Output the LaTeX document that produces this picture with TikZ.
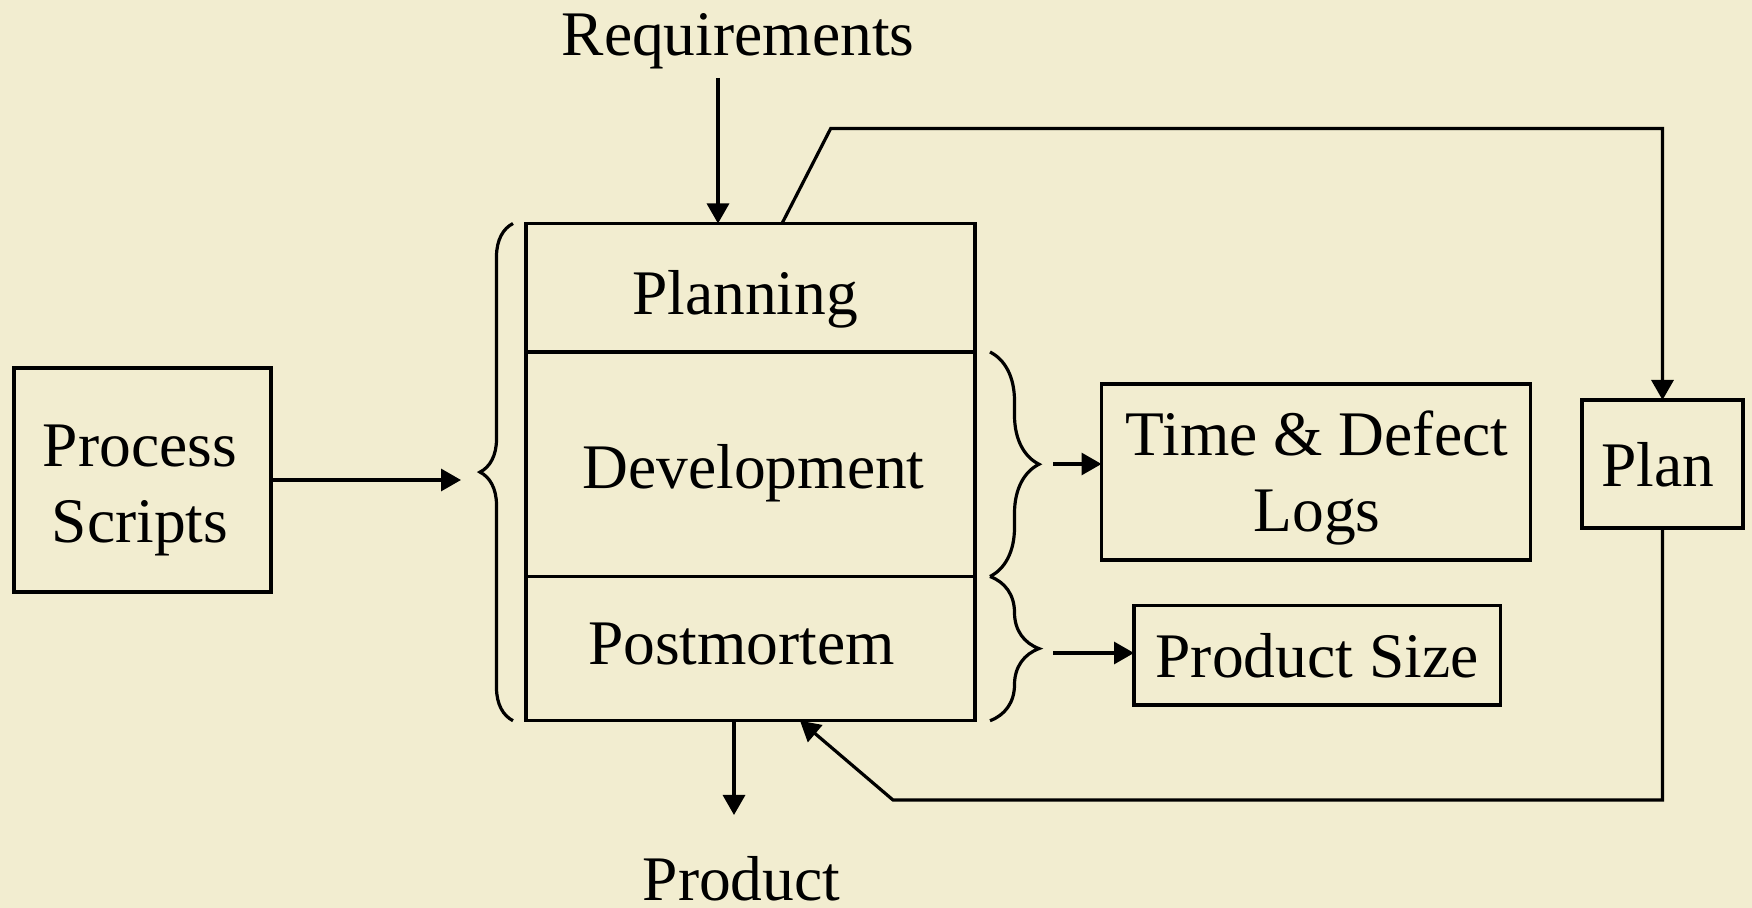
\documentclass[tikz,border=0pt]{standalone}
\usepackage{fontspec}
\setmainfont{Liberation Serif}
\usepackage{tikz}
\usetikzlibrary{arrows.meta, calc, decorations.pathreplacing}
\definecolor{parchment}{RGB}{242,237,208}

\begin{document}
\begin{tikzpicture}[
			x=0.5pt, y=-0.5pt,
			line width=1.6pt,
			every node/.style={font=\fontsize{31.75}{38}\selectfont},
			box/.style={draw, line width=1.6pt, inner sep=0pt, outer sep=0pt},
			txt/.style={anchor=base, inner sep=0pt, align=center},
			arr/.style={-{Triangle[length=10pt, width=11pt]}},
			brc/.style={decorate, decoration={brace, amplitude=#1}}
		]
		\fill[parchment] (0,0) rectangle (1752,908);
		\useasboundingbox (0,0) rectangle (1752,908);

		% boxes
		\node[box, minimum width=128.5pt, minimum height=112pt] (procs) at (142.5,480) {};
		\node[box, minimum width=224.5pt, minimum height=64.25pt] (planning) at (750.5,287.75) {};
		\node[box, minimum width=224.5pt, minimum height=112.25pt] (development) at (750.5,464.25) {};
		\node[box, minimum width=224.5pt, minimum height=72.1pt] (postmortem) at (750.5,648.6) {};
		\node[box, minimum width=214.5pt, minimum height=88pt] (logs) at (1316,472) {};
		\node[box, minimum width=183.3pt, minimum height=49.7pt] (size) at (1317.3,655.3) {};
		\node[box, minimum width=80.5pt, minimum height=64pt] (plan) at (1662.5,464) {};

		% texts (base of a two-line text is its last line)
		\node[txt] (reqtext) at (738,56) {Requirements};
		\node[txt] (procstext) at (140,543) {Process\\Scripts};
		\node[txt] (planningtext) at (745,315) {Planning};
		\node[txt] (devtext) at (753.5,489) {Development};
		\node[txt] (pmtext) at (741.5,665) {Postmortem};
		\node[txt] (logstext) at (1317,532) {Time \& Defect\\Logs};
		\node[txt] (sizetext) at (1317,678) {Product Size};
		\node[txt] (plantext) at (1658,487) {Plan};
		\node[txt] (prodtext) at (741.5,900) {Product};

		% braces
		\draw[brc=16.5pt] ($(postmortem.south west)+(-13,0)$) -- ($(planning.north west)+(-13,0)$);
		\draw[brc=24.5pt] ($(development.north east)+(15,0)$) -- ($(development.south east)+(15,0)$);
		\draw[brc=24.5pt] ($(postmortem.north east)+(15,0)$) -- ($(postmortem.south east)+(15,0)$);

		% connectors
		\coordinate (reqtop) at (718,78);
		\coordinate (inleft) at (461,480);
		\coordinate (outlogs) at (1053,464);
		\coordinate (outsize) at (1053,653);
		\coordinate (planout) at ($(planning.north west)+(256,0)$);
		\coordinate (backin) at ($(postmortem.south west)+(274,0)$);
		\coordinate (prodend) at (734,815);
		\draw[arr] (reqtop) -- (reqtop |- planning.north);
		\draw[arr] (procs.east) -- (inleft);
		\draw[arr] (outlogs) -- (outlogs -| logs.west);
		\draw[arr] (outsize) -- (outsize -| size.west);
		\draw[arr] (planout) -- (830.7,128.5) -- (plan.north |- 0,128.5) -- (plan.north);
		\draw[arr] (plan.south) -- (plan.south |- 0,800) -- (893,800) -- (backin);
		\draw[arr] (prodend |- postmortem.south) -- (prodend);
	\end{tikzpicture}
\end{document}
